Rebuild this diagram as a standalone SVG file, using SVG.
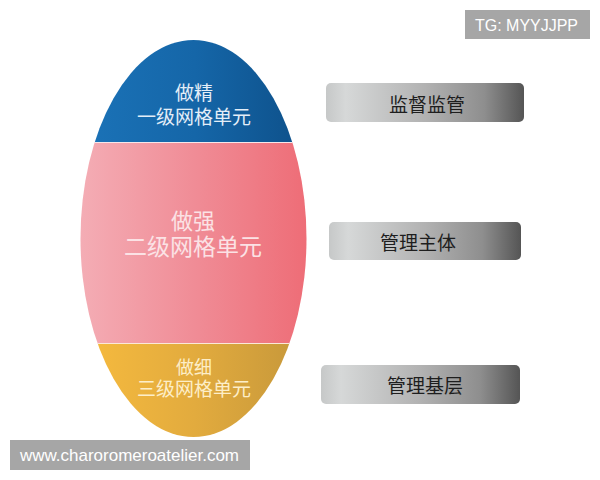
<svg xmlns="http://www.w3.org/2000/svg" width="600" height="480" viewBox="0 0 600 480">
<style>
.cn{font-family:"Liberation Sans","Noto Sans CJK SC",sans-serif;text-anchor:middle}
.lbl{font-family:"Noto Sans CJK SC","Noto Sans",sans-serif;text-anchor:middle;dominant-baseline:central;font-size:19px;fill:#1e1e1e}
.wm{font-family:"Liberation Sans",Arial,sans-serif;fill:#ffffff}
.box{stroke:none}
</style>
<defs>
<clipPath id="egg"><ellipse cx="193.5" cy="238.5" rx="113" ry="198.5"/></clipPath>
<linearGradient id="gBlue" x1="0" y1="0" x2="1" y2="0">
<stop offset="0" stop-color="#1b73b8"/><stop offset="0.5" stop-color="#1566a8"/><stop offset="1" stop-color="#0d4f88"/>
</linearGradient>
<linearGradient id="gPink" x1="0" y1="0" x2="1" y2="0">
<stop offset="0" stop-color="#f4adb5"/><stop offset="0.5" stop-color="#f08c96"/><stop offset="1" stop-color="#ee6c76"/>
</linearGradient>
<linearGradient id="gGold" x1="0" y1="0" x2="1" y2="0">
<stop offset="0" stop-color="#f7bb3e"/><stop offset="0.5" stop-color="#e2ab3e"/><stop offset="1" stop-color="#c4963a"/>
</linearGradient>
<linearGradient id="gGrey" x1="0" y1="0" x2="1" y2="0">
<stop offset="0" stop-color="#c6c8c8"/><stop offset="0.1" stop-color="#d6d8d8"/><stop offset="0.5" stop-color="#b2b2b2"/><stop offset="0.8" stop-color="#8e8e8e"/><stop offset="1" stop-color="#555555"/>
</linearGradient>
</defs>
<g id="egg-shape" clip-path="url(#egg)">
<rect x="80" y="38" width="230" height="104" fill="url(#gBlue)"/>
<rect x="80" y="142" width="230" height="202" fill="url(#gPink)"/>
<rect x="80" y="344" width="230" height="96" fill="url(#gGold)"/>
<line x1="80" y1="142.5" x2="310" y2="142.5" stroke="#f7e6ea" stroke-width="1.2"/>
<line x1="80" y1="343.5" x2="310" y2="343.5" stroke="#fbe8d8" stroke-width="1.2"/>
</g>
<g id="level1">
<text class="cn" font-size="19" fill="#e4eef8"><tspan x="194" y="100">做精</tspan><tspan x="194" y="124">一级网格单元</tspan></text>
</g>
<g id="level2">
<text class="cn" fill="#fbe2e5"><tspan x="193" y="229" font-size="22">做强</tspan><tspan x="193" y="255" font-size="23">二级网格单元</tspan></text>
</g>
<g id="level3">
<text class="cn" fill="#fdeec8"><tspan x="194" y="374" font-size="18">做细</tspan><tspan x="194" y="396" font-size="19">三级网格单元</tspan></text>
</g>
<g id="connectors"></g>
<g id="box1">
<rect class="box" x="326" y="83" width="198" height="39" rx="5" fill="url(#gGrey)"/>
<text class="lbl" x="427" y="103">监督监管</text>
</g>
<g id="box2">
<rect class="box" x="329" y="222" width="192" height="38" rx="5" fill="url(#gGrey)"/>
<text class="lbl" x="418" y="241">管理主体</text>
</g>
<g id="box3">
<rect class="box" x="321" y="365" width="199" height="39" rx="5" fill="url(#gGrey)"/>
<text class="lbl" x="425" y="384">管理基层</text>
</g>
<g id="tg">
<rect x="465" y="10" width="125" height="29" fill="#a6a6a6"/>
<text class="wm" x="475" y="31" font-size="16" textLength="103">TG: MYYJJPP</text>
</g>
<g id="watermark">
<rect x="10" y="440" width="240" height="30" fill="#a6a6a6"/>
<text class="wm" x="20" y="461" font-size="17" textLength="219">www.charoromeroatelier.com</text>
</g>
</svg>
